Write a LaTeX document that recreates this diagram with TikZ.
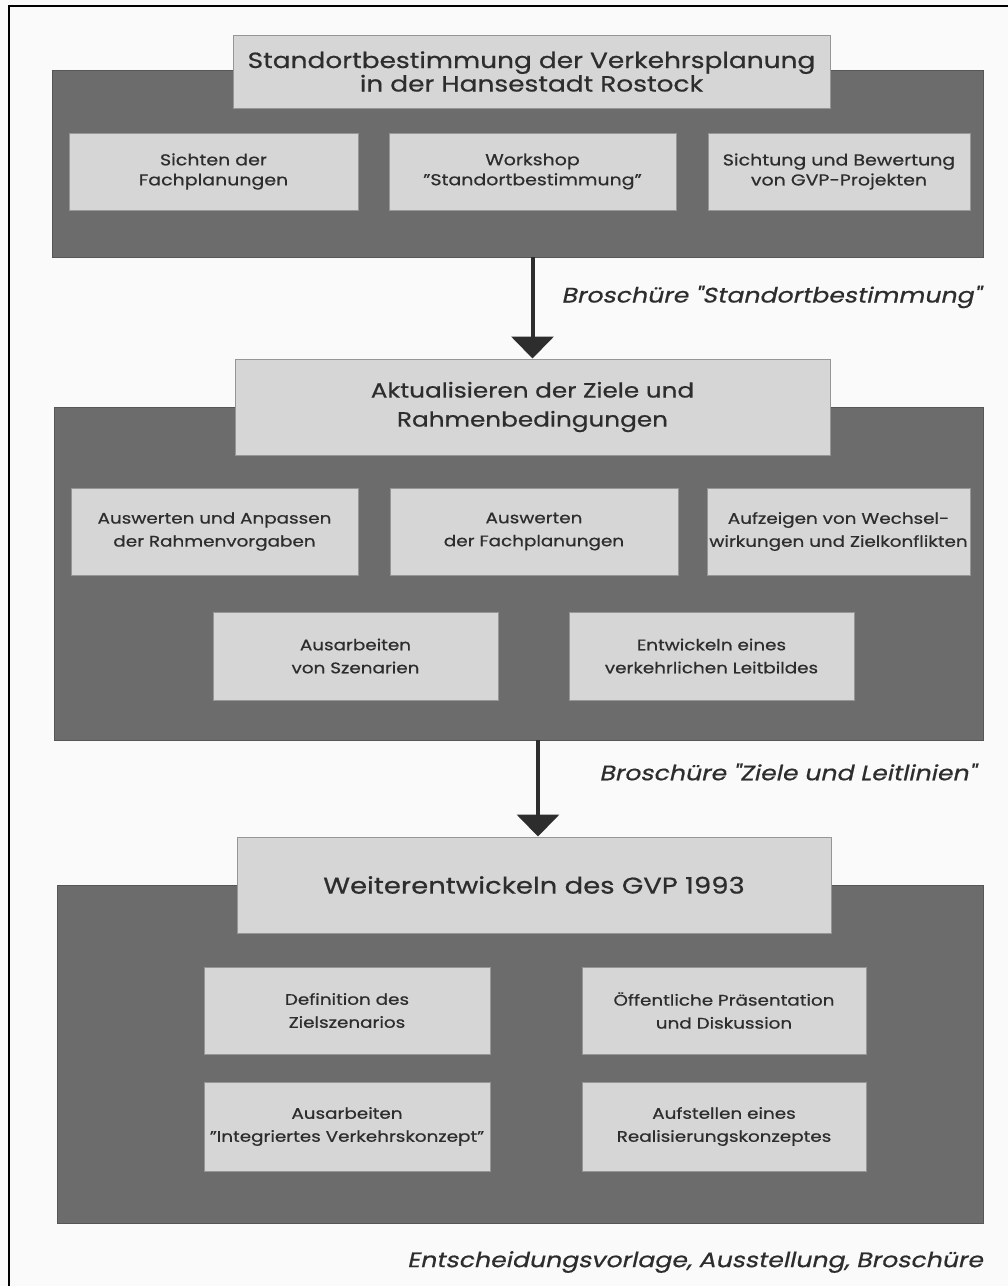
\documentclass[tikz,border=0pt]{standalone}
\usepackage{fontspec}
\setmainfont{Poppins}[FakeStretch=1.2, FakeBold=0.6]
\newfontfamily\labelfont{Poppins}[FakeStretch=1.2, FakeSlant=0.22, FakeBold=0.6]
\usetikzlibrary{arrows.meta}
\definecolor{panelgray}{RGB}{108,108,108}
\definecolor{boxgray}{RGB}{214,214,214}
\definecolor{boxline}{RGB}{150,150,150}
\definecolor{inkgray}{RGB}{45,45,45}
\definecolor{pagebg}{RGB}{250,250,250}
\tikzset{
  panel/.style={fill=panelgray, draw=panelgray!80!black, line width=0.8pt, inner sep=0pt},
  titlebox/.style={fill=boxgray, draw=boxline, line width=1pt, align=center, text=inkgray, inner sep=0pt,
    font=\fontsize{22}{23.5}\selectfont},
  subbox/.style={fill=boxgray, draw=boxline, line width=1pt, align=center, text=inkgray, inner sep=0pt,
    font=\fontsize{15.3}{23}\selectfont},
  smallbox/.style={subbox, font=\fontsize{15.8}{20}\selectfont},
  arr/.style={draw=inkgray, line width=4pt, -{Triangle[width=42pt,length=22pt]}},
  caption/.style={anchor=east, text=inkgray, font=\labelfont\fontsize{21}{24}\selectfont, inner sep=0pt}
}
\begin{document}
\begin{tikzpicture}[x=1pt,y=-1pt]
\useasboundingbox (0,0) rectangle (1008,1286);
\fill[pagebg] (0,0) rectangle (1008,1286);
\draw[line width=2pt, black] (9,1292) -- (9,6) -- (1014,6);

% panel 1
\node[panel, minimum width=931pt, minimum height=187pt] (P1) at (517.5,163.5) {};
\node[titlebox, minimum width=597pt, minimum height=73pt] (T1) at (531.5,71.5)
  {Standortbestimmung der Verkehrsplanung\\in der Hansestadt Rostock};
\node[smallbox, minimum width=289pt, minimum height=77pt] (A1) at (213.5,171.5) {Sichten der\\Fachplanungen};
\node[smallbox, minimum width=287pt, minimum height=77pt] (A2) at (532.5,171.5) {Workshop\\"Standortbestimmung"};
\node[smallbox, minimum width=262pt, minimum height=77pt] (A3) at (839,171.5) {Sichtung und Bewertung\\von GVP-Projekten};

% panel 2
\node[panel, minimum width=929pt, minimum height=333pt] (P2) at (518.5,573.5) {};
\node[titlebox, minimum width=595pt, minimum height=96pt, font=\fontsize{20.6}{29}\selectfont] (T2) at (532.5,407)
  {Aktualisieren der Ziele und\\Rahmenbedingungen};
\node[subbox, minimum width=287pt, minimum height=87pt] (B1) at (214.5,531.5) {Auswerten und Anpassen\\der Rahmenvorgaben};
\node[subbox, minimum width=288pt, minimum height=87pt] (B2) at (534,531.5) {Auswerten\\der Fachplanungen};
\node[subbox, minimum width=263pt, minimum height=87pt] (B3) at (838.5,531.5) {Aufzeigen von Wechsel-\\wirkungen und Zielkonflikten};
\node[subbox, minimum width=285pt, minimum height=88pt] (B4) at (355.5,656) {Ausarbeiten\\von Szenarien};
\node[subbox, minimum width=285pt, minimum height=88pt] (B5) at (711.5,656) {Entwickeln eines\\verkehrlichen Leitbildes};

% panel 3
\node[panel, minimum width=926pt, minimum height=338pt] (P3) at (520,1054) {};
\node[titlebox, minimum width=594pt, minimum height=96pt, font=\fontsize{22.9}{29}\selectfont] (T3) at (534,885)
  {Weiterentwickeln des GVP 1993};
\node[subbox, minimum width=286pt, minimum height=87pt] (C1) at (347,1010.5) {Definition des\\Zielszenarios};
\node[subbox, minimum width=284pt, minimum height=87pt] (C2) at (724,1010.5) {Öffentliche Präsentation\\und Diskussion};
\node[subbox, minimum width=286pt, minimum height=89pt] (C3) at (347,1126.5) {Ausarbeiten\\"Integriertes Verkehrskonzept"};
\node[subbox, minimum width=284pt, minimum height=89pt] (C4) at (724,1126.5) {Aufstellen eines\\Realisierungskonzeptes};

% arrows
\draw[arr] (P1.south -| T2.north) -- (T2.north);
\draw[arr] ([xshift=4pt]P2.south -| T3.north) -- ([xshift=4pt]T3.north);

% captions
\node[caption] (L1) at (981,297) {Broschüre "Standortbestimmung"};
\node[caption] (L2) at (976,772) {Broschüre "Ziele und Leitlinien"};
\node[caption] (L3) at (983,1262) {Entscheidungsvorlage, Ausstellung, Broschüre};
\end{tikzpicture}
\end{document}
